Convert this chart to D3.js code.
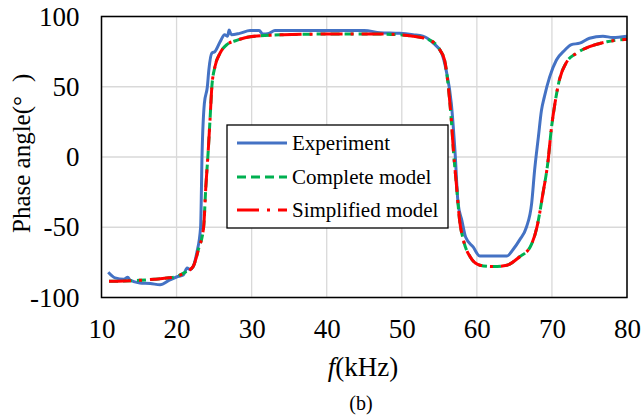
<!DOCTYPE html>
<html><head><meta charset="utf-8">
<script src="https://cdn.jsdelivr.net/npm/d3@7"></script>
<style>body{margin:0;background:#fff}svg{display:block}text{font-family:"Liberation Serif","Times New Roman",serif;fill:#000}</style>
</head><body><svg id="c" width="641" height="418"></svg>
<script>
const xTicks=[10,20,30,40,50,60,70,80];
const yTicks=[-100,-50,0,50,100];
const seriesNames=["Experiment","Complete model","Simplified model"];
const expF=[10.9,11.8,13.0,13.5,13.8,15.1,16.5,17.8,19.1,20.0,20.9,21.4,21.8,22.2,22.7,23.2,23.4,23.7,24.1,24.3,24.7,25.1,25.8,26.4,26.8,27.0,27.3,28.4,29.8,31.0,31.5,32.3,33.1,36,40,45,47.1,49.7,51.5,52.8,54.2,55.3,55.9,56.6,57.1,57.5,58.0,58.5,59.5,60.4,62,64.0,64.8,65.7,66.6,67.3,67.7,68.2,68.6,69.0,69.7,70.6,71.7,72.6,73.7,75.0,76.8,78.1,80];
const expV=[-82,-86,-87,-85.5,-87.6,-89.7,-90,-91,-87.5,-85.4,-84,-79,-80,-78,-68,-50,3,38,50,62,74,75,82,87,86,90.4,87,88,90,90,87.5,88,90,90,90,90,88.5,88,87,86,81,74,62,38,3,-33,-45,-57,-64,-70.5,-70.5,-70.5,-66,-59,-50,-33,-9,14.5,33,43,57,69,76,80,81,84.5,86,85,86];
const modF=[11,13,15,17,19,20,21,22.2,22.9,23.6,23.9,24.2,24.45,24.7,25.1,25.8,26.7,28.0,29.8,34.2,40,47.1,51.5,53.8,55.1,55.7,56.2,56.6,56.9,57.3,57.7,58.2,59.1,60.4,62.2,64.0,65.7,67.1,68.0,68.8,69.5,69.9,70.4,71.0,71.9,73.3,75.0,77.3,80];
const modV=[-88.5,-88.3,-87.8,-87,-86,-85,-82.5,-78,-66,-50,-21,3,26,50,64,74,80,83,85.6,87,87.5,87.5,86,83,76,69,50,26,3,-21,-45,-59,-71,-77,-78,-77,-71,-64,-50,-26,-2,19,38,55,67,74,78.5,82,83.8];

const svg=d3.select("#c");
const L=101.5,R=627,T=16.5,B=297.5;
const x=d3.scaleLinear().domain([10,80]).range([L,R]);
const y=d3.scaleLinear().domain([-100,100]).range([B,T]);

svg.append("g").selectAll("line").data(xTicks).join("line")
 .attr("x1",d=>x(d)).attr("x2",d=>x(d)).attr("y1",T).attr("y2",B).attr("stroke","#d9d9d9").attr("stroke-width",1.3);
svg.append("g").selectAll("line").data(yTicks).join("line")
 .attr("y1",d=>y(d)).attr("y2",d=>y(d)).attr("x1",L).attr("x2",R).attr("stroke","#d9d9d9").attr("stroke-width",1.3);

const fmt=d=>String(d);
const gx=svg.append("g").attr("transform",`translate(0,${B})`).call(d3.axisBottom(x).tickValues(xTicks).tickSize(0).tickPadding(21).tickFormat(fmt));
gx.select(".domain").remove();
gx.selectAll("text").style("font-size","27px").style("font-family","Liberation Serif");
const gy=svg.append("g").attr("transform",`translate(${L},0)`).call(d3.axisLeft(y).tickValues(yTicks).tickSize(0).tickPadding(22).tickFormat(fmt));
gy.select(".domain").remove();
gy.selectAll("text").style("font-size","27px").style("font-family","Liberation Serif");

const line=d3.line().x(d=>x(d[0])).y(d=>y(d[1])).curve(d3.curveMonotoneX);
const expData=expF.map((f,i)=>[f,expV[i]]);
const modData=modF.map((f,i)=>[f,modV[i]]);

svg.append("clipPath").attr("id","cp").append("rect").attr("x",L).attr("y",T).attr("width",R-L).attr("height",B-T);
const gp=svg.append("g").attr("clip-path","url(#cp)");
gp.append("path").datum(expData).attr("d",line).attr("fill","none").attr("stroke","#4472C4").attr("stroke-width",3);
gp.append("path").datum(modData).attr("d",line).attr("fill","none").attr("stroke","#00B050").attr("stroke-width",3).attr("stroke-dasharray","9,5");
gp.append("path").datum(modData).attr("d",line).attr("fill","none").attr("stroke","#FF0000").attr("stroke-width",3).attr("stroke-dasharray","22,8,3,8");

svg.append("rect").attr("x",L).attr("y",T).attr("width",R-L).attr("height",B-T).attr("fill","none").attr("stroke","#000").attr("stroke-width",1.5);

const lg=svg.append("g");
lg.append("rect").attr("x",227).attr("y",125).attr("width",221).attr("height",103).attr("fill","#fff").attr("stroke","#000").attr("stroke-width",1.3);
const styles=[{c:"#4472C4",d:null},{c:"#00B050",d:"9,5"},{c:"#FF0000",d:"22,8,3,8"}];
const ly=[143,177,210];
seriesNames.forEach((n,i)=>{
  const l=lg.append("line").attr("x1",237).attr("x2",287).attr("y1",ly[i]).attr("y2",ly[i]).attr("stroke",styles[i].c).attr("stroke-width",3);
  if(styles[i].d) l.attr("stroke-dasharray",styles[i].d);
  lg.append("text").attr("x",292).attr("y",ly[i]+7).style("font-size","21px").text(n);
});

svg.append("text").attr("x",363).attr("y",376).attr("text-anchor","middle").style("font-size","27px")
 .html('<tspan font-style="italic">f</tspan>(kHz)');
svg.append("text").attr("x",361).attr("y",410).attr("text-anchor","middle").style("font-size","20px").text("(b)");
svg.append("text").attr("transform","translate(29.5,233) rotate(-90)").attr("text-anchor","start").style("font-size","25px")
 .html('Phase angle(°<tspan dx="14">)</tspan>');
</script></body></html>
